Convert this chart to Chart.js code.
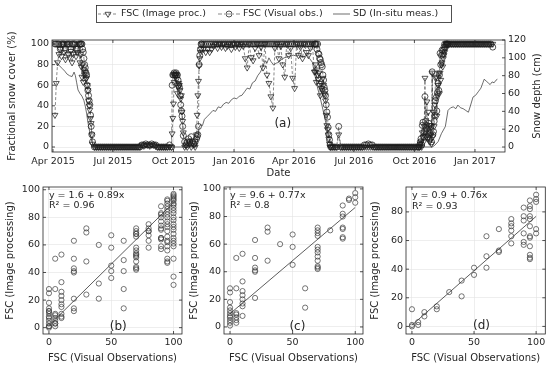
<!DOCTYPE html>
<html>
<head>
<meta charset="utf-8">
<title>FSC image processing vs visual observations</title>
<script src="https://cdn.jsdelivr.net/npm/chart.js@4.4.1/dist/chart.umd.min.js"></script>
<style>
  body { margin: 0; background: #fff; overflow: hidden; }
  #figure { position: relative; width: 550px; height: 368px; }
  #figure canvas { position: absolute; }
</style>
</head>
<body>
<div id="figure">
  <canvas id="timeSeries" width="550" height="185" style="left:0;top:0"></canvas>
  <canvas id="scatterB" width="188" height="188" style="left:0;top:180px"></canvas>
  <canvas id="scatterC" width="182" height="188" style="left:188px;top:180px"></canvas>
  <canvas id="scatterD" width="180" height="188" style="left:370px;top:180px"></canvas>
</div>
<script>
// ---------- time series, days counted from 1 Apr 2015 ----------
const seriesStart = '2015-04-01';
const monthTicks = ['2015-04-01', '2015-07-01', '2015-10-01', '2016-01-01',
                    '2016-04-01', '2016-07-01', '2016-10-01', '2017-01-01'];
const monthLabels = ['Apr 2015', 'Jul 2015', 'Oct 2015', 'Jan 2016',
                     'Apr 2016', 'Jul 2016', 'Oct 2016', 'Jan 2017'];

const obsDays = [
  3, 5, 7, 9, 11, 13, 15, 17, 19, 21, 23, 25, 27, 29, 31, 33, 35, 37, 39,
  41, 42, 43, 44, 45, 46, 47, 48, 49, 50, 51, 52, 53, 54, 55, 56, 57, 58, 59, 60,
  63, 66, 69, 72, 75, 78, 81, 84, 87, 90, 93, 96, 99, 102, 105, 108, 111, 114, 117, 120,
  123, 126, 129, 132, 135, 138, 141, 144, 147, 150, 153, 156, 159, 162, 165, 168, 171, 174, 177, 180,
  181, 182, 183, 184, 185, 186, 187, 188, 189, 190, 191, 192, 193, 194, 195, 196, 197, 198,
  200, 202, 204, 206, 208, 210, 212, 214, 216, 218,
  219, 220, 221, 222, 223, 224, 225, 226,
  229, 232, 235, 238, 241, 244, 247, 250, 253, 256, 259, 262, 265, 268, 271, 274, 277, 280, 283, 286,
  289, 292, 295, 298, 301, 304, 307, 310, 313, 316, 319, 322, 325, 328, 331, 334, 337, 340, 343, 346,
  349, 352, 355, 358, 361, 364, 367, 370, 373, 376, 379, 382, 385, 388, 391, 394, 397,
  398, 399, 400, 401, 402, 403, 404, 405, 406, 407, 408, 409, 410, 411, 412, 413, 414, 415, 416, 417,
  418, 419, 420, 421, 422,
  425, 428, 431, 434, 437, 440, 443, 446, 449, 452, 455, 458, 461, 464, 467, 470, 473, 476, 479, 482,
  485, 488, 491, 494, 497, 500, 503, 506, 509, 512, 515, 518, 521, 524, 527, 530, 533, 536, 539, 542,
  545, 548, 551, 554,
  556, 557, 558, 559, 560, 561, 562, 563, 564, 565, 566, 567, 568, 569, 570, 571, 572, 573, 574, 575,
  576, 577, 578, 579, 580, 581, 582, 583, 584, 585, 586, 587, 588, 589, 590, 591, 592, 593, 594, 595,
  596, 597, 598, 599, 600,
  602, 605, 608, 611, 614, 617, 620, 623, 626, 629, 632, 635, 638, 641, 644, 647, 650, 653, 656, 659,
  662, 665, 668
];

const fscImage = [
  31, 62, 82, 90, 95, 88, 100, 92, 85, 100, 90, 87, 93, 82, 90, 100, 88, 92, 100,
  82, 90, 78, 68, 80, 63, 75, 70, 73, 66, 67, 60, 55, 45, 40, 36, 28, 23, 12, 3,
  0, 0, 0, 0, 0, 0, 0, 0, 0, 0, 0, 0, 0, 0, 0, 0, 0, 0, 0, 0,
  0, 0, 0, 0, 2, 1, 2, 2, 1, 2, 2, 1, 0, 0, 0, 0, 0, 0, 0, 0,
  13, 28, 42, 63, 70, 68, 70, 66, 52, 58, 62, 60, 55, 47, 50, 34, 25, 14,
  0, 2, 0, 5, 3, 0, 4, 2, 0, 12,
  31, 50, 64, 79, 86, 92, 95, 100,
  95, 92, 95, 92, 95, 98, 100, 96, 100, 97, 100, 96, 98, 100, 95, 100, 97, 100, 96, 100,
  98, 86, 77, 100, 87, 84, 96, 100, 89, 97, 77, 100, 70, 62, 49, 38, 96, 100, 86, 98,
  80, 68, 100, 89, 96, 67, 57, 100, 89, 97, 86, 100, 92, 89, 96, 100, 73,
  73, 80, 63, 75, 70, 66, 72, 60, 50, 62, 57, 55, 67, 60, 52, 50, 45, 31, 21, 17,
  12, 8, 3, 0, 0,
  0, 0, 0, 12, 0, 0, 0, 0, 0, 0, 0, 0, 0, 0, 0, 0, 0, 0, 0, 0,
  0, 0, 0, 0, 0, 0, 0, 0, 0, 0, 0, 0, 0, 0, 0, 0, 0, 0, 0, 0,
  0, 0, 0, 0,
  0, 0, 3, 5, 0, 14, 10, 5, 20, 67, 14, 10, 44, 8, 34, 18, 5, 21, 12, 3,
  72, 10, 34, 20, 41, 67, 68, 30, 50, 60, 72, 52, 72, 65, 80, 82, 78, 86, 89, 92,
  95, 100, 100, 100, 100,
  100, 100, 100, 100, 100, 100, 100, 100, 100, 100, 100, 100, 100, 100, 100, 100, 100, 100, 100, 100,
  100, 100, 100
];

const fscVisual = [
  100, 100, 100, 100, 95, 100, 100, 100, 95, 100, 100, 100, 95, 100, 100, 100, 95, 95, 100,
  100, 100, 100, 100, 95, 92, 86, 80, 77, 72, 70, 60, 55, 50, 45, 41, 31, 20, 12, 5,
  0, 0, 0, 0, 0, 0, 0, 0, 0, 0, 0, 0, 0, 0, 0, 0, 0, 0, 0, 0,
  0, 0, 0, 0, 2, 2, 3, 2, 2, 3, 2, 2, 0, 0, 0, 0, 0, 0, 2, 0,
  60, 70, 70, 72, 70, 70, 72, 70, 70, 65, 60, 58, 50, 41, 35, 30, 20, 11,
  5, 2, 5, 8, 5, 10, 5, 3, 5, 8,
  10, 12, 20, 80, 89, 95, 100, 100,
  100, 100, 100, 100, 100, 100, 100, 100, 100, 100, 100, 100, 100, 100, 100, 100, 100, 100, 100, 100,
  100, 100, 100, 100, 100, 100, 100, 100, 100, 100, 100, 100, 100, 100, 100, 100, 100, 100, 100, 100,
  100, 100, 100, 100, 100, 100, 100, 100, 100, 100, 100, 100, 100, 100, 100, 100, 100,
  100, 100, 100, 95, 100, 91, 90, 86, 85, 82, 80, 78, 70, 65, 58, 55, 50, 41, 34, 29,
  19, 12, 7, 2, 0,
  0, 0, 0, 20, 0, 0, 0, 0, 0, 0, 0, 0, 0, 0, 0, 0, 2, 2, 3, 2,
  2, 0, 0, 0, 0, 0, 0, 0, 0, 0, 0, 0, 0, 0, 0, 0, 0, 0, 0, 0,
  0, 0, 0, 0,
  0, 2, 5, 8, 2, 21, 24, 10, 15, 49, 25, 18, 21, 10, 12, 23, 14, 8, 20, 5,
  73, 12, 15, 25, 31, 45, 48, 35, 53, 62, 55, 70, 91, 80, 89, 94, 90, 94, 97, 100,
  97, 100, 100, 100, 100,
  100, 100, 100, 100, 100, 100, 100, 100, 100, 100, 100, 100, 100, 100, 100, 100, 100, 100, 100, 100,
  100, 100, 97
];

const sdDays = [
  2, 6, 10, 14, 18, 21, 25, 29, 32, 34, 36, 38, 41, 44, 47, 49, 51, 53, 55, 57, 59, 61, 63,
  218, 220, 222, 224, 227, 230, 234, 238, 243, 247, 251, 255, 259, 263, 267, 271, 275, 279, 283,
  287, 291, 295, 299, 303, 307, 311, 315, 319, 322, 325, 328, 331, 335, 339, 343, 347, 351, 356,
  360, 365, 370, 375, 380, 386, 390, 394, 398, 402, 406, 410, 413, 416, 418, 421, 424, 426,
  576, 580, 585, 590, 596, 600, 604, 608, 612, 615, 619, 623, 627, 631, 634, 638, 642, 646, 650,
  653, 655, 658, 661, 664, 667, 670, 673, 675
];
const sdDepth = [
  97, 94, 91, 88, 85, 82, 80, 79, 84, 80, 72, 64, 60, 57, 52, 46, 38, 28, 20, 12, 6, 2, 0,
  0, 10, 22, 25, 24, 31, 34, 37, 41, 40, 45, 44, 48, 50, 49, 53, 55, 54, 57,
  58, 62, 66, 65, 72, 74, 80, 84, 90, 97, 94, 100, 96, 92, 94, 95, 98, 100, 101,
  102, 103, 102, 103, 101, 103, 99, 95, 80, 66, 55, 42, 32, 22, 13, 6, 2, 0,
  0, 2, 6, 15, 23, 41, 44, 45, 43, 47, 44, 43, 41, 39, 46, 56, 58, 62, 66,
  72, 76, 74, 72, 70, 73, 72, 75, 76
];

const fscTicks = [0, 20, 40, 60, 80, 100];
const sdTicks = [0, 20, 40, 60, 80, 100, 120];

// ---------- scatter panels: [visual FSC, image-processing FSC values] ----------
const panelC = [
  [0, [28, 25, 18, 14, 12, 10, 8, 7, 5, 3, 1]],
  [5, [50, 28, 10, 9, 7, 5, 3]],
  [10, [53, 33, 26, 23, 20, 17, 15, 8]],
  [20, [63, 50, 43, 41, 40, 21]],
  [30, [72, 69, 48]],
  [40, [60]],
  [50, [67, 58, 45]],
  [60, [28, 14]],
  [70, [72, 70, 68, 66, 58, 56, 54, 51, 48, 44, 43, 42]],
  [80, [70]],
  [90, [88, 82, 80, 72, 71, 65, 64]],
  [95, [93, 92]],
  [100, [97, 94, 90]]
];
const panelD = [
  [0, [12, 1, 0]],
  [5, [3, 1]],
  [10, [10, 7]],
  [20, [14, 12]],
  [30, [24]],
  [40, [32, 21]],
  [50, [41, 36]],
  [60, [63, 49, 41]],
  [70, [68, 53, 52]],
  [80, [75, 72, 70, 67, 63, 58]],
  [90, [83, 77, 74, 65, 59, 57]],
  [95, [88, 84, 82, 77, 75, 70, 63, 62, 56, 50, 48, 47]],
  [100, [92, 89, 87, 68, 65]]
];
// points only in the full-period panel (b)
const extraB = [
  [95, [90, 86, 80, 73, 66, 59]],
  [100, [96, 95, 93, 85, 83, 80, 78, 75, 73, 71, 63, 61, 59, 50, 37, 31]]
];
const fitB = [1.6, 0.89];
const fitC = [9.6, 0.77];
const fitD = [0.9, 0.76];

// ---------- drawing ----------
const INK = '#262626';
const GRID = '#e2e2e2';
const FONT = '"DejaVu Sans", sans-serif';

Chart.defaults.font.family = FONT;
Chart.defaults.font.size = 9.5;
Chart.defaults.color = INK;
Chart.defaults.animation = false;
Chart.defaults.plugins.legend.display = false;
Chart.defaults.plugins.tooltip.enabled = false;

const dayOf = s => Math.round((Date.parse(s) - Date.parse(seriesStart)) / 864e5);

function fixSize(prop, size) {
  return s => {
    s[prop] = size;
    s.paddingLeft = s.paddingRight = s.paddingTop = s.paddingBottom = 0;
  };
}
function setTicks(values) {
  return s => { s.ticks = values.map(value => ({ value })); };
}

function drawMarker(ctx, style, x, y, r) {
  ctx.beginPath();
  if (style === 'triangle') {
    ctx.moveTo(x, y + r);
    ctx.lineTo(x - r * 0.866, y - r * 0.5);
    ctx.lineTo(x + r * 0.866, y - r * 0.5);
    ctx.closePath();
  } else {
    ctx.arc(x, y, r, 0, Math.PI * 2);
  }
  ctx.stroke();
}

// box round the plot area with inward tick marks
const framePlugin = {
  id: 'frame',
  afterDatasetsDraw(chart) {
    const { ctx, chartArea: a, scales } = chart;
    const len = 3;
    ctx.save();
    ctx.strokeStyle = INK;
    ctx.lineWidth = 0.8;
    ctx.beginPath();
    Object.values(scales).forEach(s => {
      s.ticks.forEach(t => {
        const p = s.getPixelForValue(t.value);
        if (s.isHorizontal()) {
          ctx.moveTo(p, a.bottom); ctx.lineTo(p, a.bottom - len);
          ctx.moveTo(p, a.top); ctx.lineTo(p, a.top + len);
        } else {
          let sides = [a.left, a.right];
          if (scales.y2) sides = s.position === 'right' ? [a.right] : [a.left];
          sides.forEach(e => {
            ctx.moveTo(e, p);
            ctx.lineTo(e === a.left ? e + len : e - len, p);
          });
        }
      });
    });
    ctx.stroke();
    ctx.strokeRect(a.left, a.top, a.right - a.left, a.bottom - a.top);
    ctx.restore();
  }
};

// free text placed in data coordinates, plus an optional upright side title
const notesPlugin = {
  id: 'notes',
  afterDraw(chart, args, opts) {
    const ctx = chart.ctx;
    (opts.items || []).forEach(n => {
      const px = chart.scales.x.getPixelForValue(n.x);
      const py = chart.scales.y.getPixelForValue(n.y);
      ctx.save();
      ctx.font = (n.size || 9.5) + 'px ' + FONT;
      ctx.fillStyle = INK;
      ctx.textAlign = n.align || 'left';
      ctx.textBaseline = 'middle';
      ctx.fillText(n.text, px, py);
      ctx.restore();
    });
    if (opts.rightTitle) {
      const a = chart.chartArea;
      ctx.save();
      ctx.font = '10px ' + FONT;
      ctx.fillStyle = INK;
      ctx.textAlign = 'center';
      ctx.textBaseline = 'middle';
      ctx.translate(chart.width - opts.rightTitle.offset, (a.top + a.bottom) / 2);
      ctx.rotate(-Math.PI / 2);
      ctx.fillText(opts.rightTitle.text, 0, 0);
      ctx.restore();
    }
  }
};

// boxed legend above the time series
const legendPlugin = {
  id: 'boxLegend',
  afterDraw(chart) {
    const ctx = chart.ctx;
    const box = { x: 96.5, y: 5.5, w: 355, h: 17 };
    const slots = [[98, 118, 121], [218, 240, 243], [333, 350, 353]];
    const cy = box.y + box.h / 2;
    ctx.save();
    ctx.fillStyle = '#fff';
    ctx.fillRect(box.x, box.y, box.w, box.h);
    ctx.strokeStyle = INK;
    ctx.lineWidth = 0.8;
    ctx.strokeRect(box.x, box.y, box.w, box.h);
    ctx.font = '9.5px ' + FONT;
    ctx.textBaseline = 'middle';
    chart.data.datasets.forEach((ds, i) => {
      const [x0, x1, tx] = slots[i];
      ctx.strokeStyle = ds.borderColor;
      ctx.lineWidth = ds.borderWidth;
      ctx.setLineDash(ds.borderDash || []);
      ctx.beginPath();
      ctx.moveTo(x0, cy);
      ctx.lineTo(x1, cy);
      ctx.stroke();
      ctx.setLineDash([]);
      if (ds.pointRadius) {
        ctx.strokeStyle = ds.pointBorderColor;
        ctx.lineWidth = ds.pointBorderWidth;
        drawMarker(ctx, ds.pointStyle, (x0 + x1) / 2, cy, ds.pointRadius);
      }
      ctx.fillStyle = INK;
      ctx.fillText(ds.label, tx, cy);
    });
    ctx.restore();
  }
};

const gridOpts = { color: GRID, lineWidth: 0.6, drawTicks: false };
const titleFont = { size: 10, lineHeight: 1 };

// ---------- (a) time series ----------
new Chart(document.getElementById('timeSeries'), {
  type: 'line',
  data: {
    datasets: [
      {
        label: 'FSC (Image proc.)',
        data: obsDays.map((d, i) => ({ x: d, y: fscImage[i] })),
        yAxisID: 'y',
        borderColor: '#3a3a3a', borderWidth: 0.6, borderDash: [3, 2],
        pointStyle: 'triangle', pointRotation: 180, pointRadius: 3.4,
        pointBorderColor: '#1c1c1c', pointBackgroundColor: 'rgba(0,0,0,0)', pointBorderWidth: 0.75
      },
      {
        label: 'FSC (Visual obs.)',
        data: obsDays.map((d, i) => ({ x: d, y: fscVisual[i] })),
        yAxisID: 'y',
        borderColor: '#3a3a3a', borderWidth: 0.6, borderDash: [4, 2, 1, 2],
        pointStyle: 'circle', pointRadius: 3,
        pointBorderColor: '#1c1c1c', pointBackgroundColor: 'rgba(0,0,0,0)', pointBorderWidth: 0.75
      },
      {
        label: 'SD (In-situ meas.)',
        data: sdDays.map((d, i) => ({ x: d, y: sdDepth[i] })),
        yAxisID: 'y2',
        borderColor: '#2e2e2e', borderWidth: 0.7, pointRadius: 0
      }
    ]
  },
  options: {
    responsive: false,
    layout: { padding: { top: 40, left: 0, right: 0, bottom: 0 } },
    scales: {
      x: {
        type: 'linear', min: -1.5, max: 686.6,
        afterFit: fixSize('height', 33),
        afterBuildTicks: setTicks(monthTicks.map(dayOf)),
        ticks: { padding: 4.3, maxRotation: 0, autoSkip: false, callback: (v, i) => monthLabels[i] },
        grid: gridOpts, border: { display: false },
        title: { display: true, text: 'Date', font: titleFont, padding: { top: 0, bottom: 7 } }
      },
      y: {
        position: 'left', min: -4.85, max: 103.9,
        afterFit: fixSize('width', 52),
        afterBuildTicks: setTicks(fscTicks),
        ticks: { padding: 3, autoSkip: false },
        grid: gridOpts, border: { display: false },
        title: { display: true, text: 'Fractional snow cover (%)', font: titleFont, padding: { top: 7, bottom: 0 } }
      },
      y2: {
        position: 'right', min: -5.6, max: 120,
        afterFit: fixSize('width', 45),
        afterBuildTicks: setTicks(sdTicks),
        ticks: { padding: 3, autoSkip: false },
        grid: { display: false, drawTicks: false }, border: { display: false },
        title: { display: false }
      }
    },
    plugins: {
      notes: {
        items: [{ text: '(a)', x: 349, y: 22, size: 12, align: 'center' }],
        rightTitle: { text: 'Snow depth (cm)', offset: 13 }
      }
    }
  },
  plugins: [framePlugin, notesPlugin, legendPlugin]
});

// ---------- (b), (c), (d) scatter panels ----------
function toPoints(groups) {
  const pts = [];
  groups.forEach(([vis, imgs]) => imgs.forEach(img => pts.push({ x: vis, y: img })));
  return pts;
}

function scatterPanel(id, p) {
  new Chart(document.getElementById(id), {
    type: 'scatter',
    data: {
      datasets: [
        {
          data: [{ x: 0, y: p.fit[0] }, { x: 100, y: p.fit[0] + 100 * p.fit[1] }],
          showLine: true, borderColor: '#333', borderWidth: 0.8, pointRadius: 0
        },
        {
          data: toPoints(p.groups),
          pointStyle: 'circle', pointRadius: 2.6, pointBorderWidth: 0.7,
          pointBorderColor: '#3a3a3a', pointBackgroundColor: 'rgba(0,0,0,0)'
        }
      ]
    },
    options: {
      responsive: false,
      layout: { padding: { top: 7, right: p.padRight, left: 0, bottom: 0 } },
      scales: {
        x: {
          type: 'linear', min: -4.8, max: p.xMax,
          afterFit: fixSize('height', 34),
          afterBuildTicks: setTicks([0, 50, 100]),
          ticks: { padding: 3.3, maxRotation: 0, autoSkip: false },
          grid: gridOpts, border: { display: false },
          title: { display: true, text: 'FSC (Visual Observations)', font: titleFont, padding: { top: 0, bottom: 4.7 } }
        },
        y: {
          type: 'linear', min: p.yMin, max: p.yMax,
          afterFit: fixSize('width', p.yWidth),
          afterBuildTicks: setTicks(p.yTicks),
          ticks: { padding: 3, autoSkip: false },
          grid: gridOpts, border: { display: false },
          title: { display: true, text: 'FSC (Image processing)', font: titleFont, padding: { top: p.titlePad, bottom: 0 } }
        }
      },
      plugins: {
        notes: {
          items: [
            { text: 'y = ' + p.fit[0] + ' + ' + p.fit[1] + 'x', x: 0, y: p.eqY[0] },
            { text: 'R\u00b2 = ' + p.r2, x: 0, y: p.eqY[1] },
            { text: p.tag, x: p.tagX, y: 0.3, size: 12, align: 'center' }
          ]
        }
      }
    },
    plugins: [framePlugin, notesPlugin]
  });
}

scatterPanel('scatterB', {
  groups: panelC.concat(panelD, extraB), fit: fitB, r2: '0.96', tag: '(b)', tagX: 55.6,
  xMax: 106.8, yMin: -4.6, yMax: 102, yTicks: [0, 20, 40, 60, 80, 100],
  yWidth: 43, padRight: 6, titlePad: 5, eqY: [96, 88.5]
});
scatterPanel('scatterC', {
  groups: panelC, fit: fitC, r2: '0.8', tag: '(c)', tagX: 53.8,
  xMax: 106.2, yMin: -5.1, yMax: 101.4, yTicks: [0, 20, 40, 60, 80, 100],
  yWidth: 36, padRight: 7, titlePad: 1, eqY: [95.5, 88.3]
});
scatterPanel('scatterD', {
  groups: panelD, fit: fitD, r2: '0.93', tag: '(d)', tagX: 56,
  xMax: 107.4, yMin: -5.3, yMax: 97.4, yTicks: [0, 20, 40, 60, 80],
  yWidth: 36, padRight: 4, titlePad: 0, eqY: [91.6, 84.1]
});
</script>
</body>
</html>
